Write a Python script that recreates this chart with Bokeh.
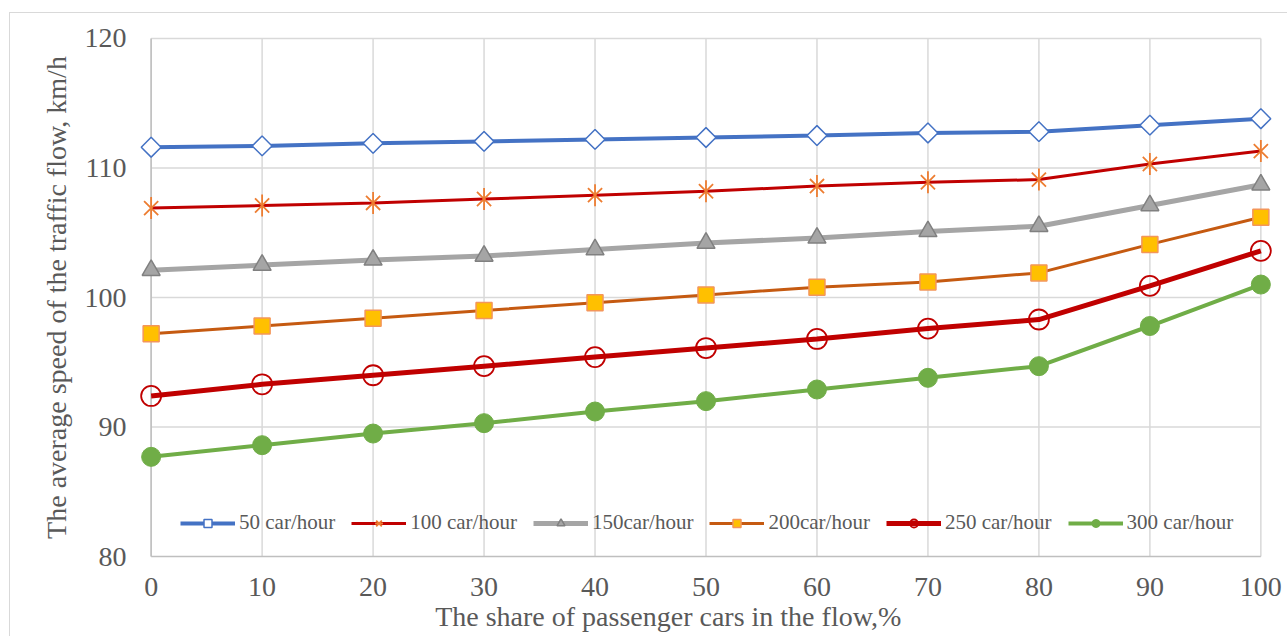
import math
from bokeh.plotting import figure
from bokeh.models import Range1d, FixedTicker, Legend, LegendItem, LinearAxis
from bokeh.embed import file_html
from bokeh.resources import INLINE

# ---- data ----
x_share = [0, 10, 20, 30, 40, 50, 60, 70, 80, 90, 100]
s50 = [111.6, 111.7, 111.9, 112.05, 112.2, 112.35, 112.5, 112.7, 112.8, 113.3, 113.8]
s100 = [106.9, 107.1, 107.3, 107.6, 107.9, 108.2, 108.6, 108.9, 109.1, 110.3, 111.3]
s150 = [102.1, 102.5, 102.9, 103.2, 103.7, 104.2, 104.6, 105.1, 105.5, 107.1, 108.7]
s200 = [97.2, 97.8, 98.4, 99.0, 99.6, 100.2, 100.8, 101.2, 101.9, 104.1, 106.2]
s250 = [92.4, 93.3, 94.0, 94.7, 95.4, 96.1, 96.8, 97.6, 98.3, 100.9, 103.6]
s300 = [87.7, 88.6, 89.5, 90.3, 91.2, 92.0, 92.9, 93.8, 94.7, 97.8, 101.0]
series_names = ["50 car/hour", "100 car/hour", "150car/hour", "200car/hour", "250 car/hour", "300 car/hour"]

x_ticks = [0, 10, 20, 30, 40, 50, 60, 70, 80, 90, 100]
y_ticks = [80, 90, 100, 110, 120]
X_MIN, X_MAX = 0, 100
Y_MIN, Y_MAX = 80, 120

x_title = "The share of passenger cars in the flow,%"
x_title_pos = 46.6   # horizontal centre of the x title, in x units
y_title = "The average speed of the traffic flow, km/h"

FONT = "Liberation Serif"
TXT = "#595959"

p = figure(width=1278, height=624,
           x_range=Range1d(-1.5, 101.5), y_range=Range1d(79.7, 120.3),
           output_backend="svg", toolbar_location=None,
           min_border_left=124, min_border_right=11,
           min_border_top=21, min_border_bottom=77)
p.outline_line_color = None
p.xgrid.visible = False
p.ygrid.visible = False
p.styles = {"margin-left": "9px", "margin-top": "12px",
            "border-left": "1px solid #d9d9d9", "border-top": "1px solid #d9d9d9"}

# grid lines
p.segment(x0=x_ticks, y0=[Y_MIN] * len(x_ticks), x1=x_ticks, y1=[Y_MAX] * len(x_ticks),
          line_color="#d9d9d9", line_width=1.5)
gy = y_ticks[1:]
p.segment(x0=[X_MIN] * len(gy), y0=gy, x1=[X_MAX] * len(gy), y1=gy,
          line_color="#d9d9d9", line_width=1.5)
# axis lines
p.segment(x0=[X_MIN, X_MIN], y0=[Y_MIN, Y_MIN], x1=[X_MIN, X_MAX], y1=[Y_MAX, Y_MIN],
          line_color="#bfbfbf", line_width=1.5)


def style_axis(ax):
    ax.axis_line_color = None
    ax.major_tick_line_color = None
    ax.minor_tick_line_color = None
    ax.major_tick_out = 0
    ax.major_tick_in = 0
    ax.minor_tick_out = 0
    ax.minor_tick_in = 0
    ax.major_label_text_font = FONT
    ax.major_label_text_font_size = "28px"
    ax.major_label_text_color = TXT


style_axis(p.xaxis[0])
style_axis(p.yaxis[0])

p.xaxis.ticker = FixedTicker(ticks=x_ticks)
p.yaxis.ticker = FixedTicker(ticks=y_ticks)
p.xaxis.major_label_standoff = 17
p.yaxis.major_label_standoff = 8

p.yaxis.axis_label = y_title
p.yaxis.axis_label_text_font = FONT
p.yaxis.axis_label_text_font_size = "28px"
p.yaxis.axis_label_text_font_style = "normal"
p.yaxis.axis_label_text_color = TXT
p.yaxis.axis_label_standoff = 10

# x title, drawn as a single label under the tick labels
title_axis = LinearAxis(ticker=FixedTicker(ticks=[x_title_pos]),
                        major_label_overrides={x_title_pos: x_title})
style_axis(title_axis)
title_axis.major_label_standoff = 2
p.add_layout(title_axis, "below")

items = []

# 50 car/hour - blue, open diamond
l1 = p.line(x_share, s50, line_color="#4472C4", line_width=4)
m1 = p.scatter(x_share, s50, marker="square", angle=math.pi / 4, size=14,
               line_color="#4472C4", line_width=1.5, fill_color="white")
items.append(LegendItem(label=series_names[0], renderers=[l1, m1]))

# 100 car/hour - dark red line, orange asterisk
l2 = p.line(x_share, s100, line_color="#C00000", line_width=3)
m2a = p.scatter(x_share, s100, marker="x", size=20, line_color="#ED7D31", line_width=1.8)
m2b = p.scatter(x_share, s100, marker="dash", angle=math.pi / 2, size=22,
                line_color="#ED7D31", line_width=1.8)
items.append(LegendItem(label=series_names[1], renderers=[l2, m2a, m2b]))

# 150 car/hour - gray, triangle
l3 = p.line(x_share, s150, line_color="#A5A5A5", line_width=5)
m3 = p.scatter(x_share, s150, marker="triangle", size=18, line_color="#808080",
               line_width=1.5, fill_color="#A5A5A5")
items.append(LegendItem(label=series_names[2], renderers=[l3, m3]))

# 200 car/hour - orange line, yellow square
l4 = p.line(x_share, s200, line_color="#C55A11", line_width=3)
m4 = p.scatter(x_share, s200, marker="square", size=16, line_color="#F4965A",
               line_width=1.5, fill_color="#FFC000")
items.append(LegendItem(label=series_names[3], renderers=[l4, m4]))

# 250 car/hour - red, open circle
l5 = p.line(x_share, s250, line_color="#C00000", line_width=5)
m5 = p.scatter(x_share, s250, marker="circle", size=20, line_color="#C00000",
               line_width=1.8, fill_color=None)
items.append(LegendItem(label=series_names[4], renderers=[l5, m5]))

# 300 car/hour - green, filled circle
l6 = p.line(x_share, s300, line_color="#70AD47", line_width=4)
m6 = p.scatter(x_share, s300, marker="circle", size=19, line_color="#70AD47",
               fill_color="#70AD47")
items.append(LegendItem(label=series_names[5], renderers=[l6, m6]))

legend = Legend(items=items, orientation="horizontal", location=(46, 25),
                padding=0, margin=0, spacing=16, glyph_width=55, glyph_height=20,
                label_standoff=4, label_text_font=FONT, label_text_font_size="21px",
                label_text_color=TXT, background_fill_alpha=0, border_line_color=None)
p.add_layout(legend)

open("out.html", "w").write(file_html(p, INLINE))
